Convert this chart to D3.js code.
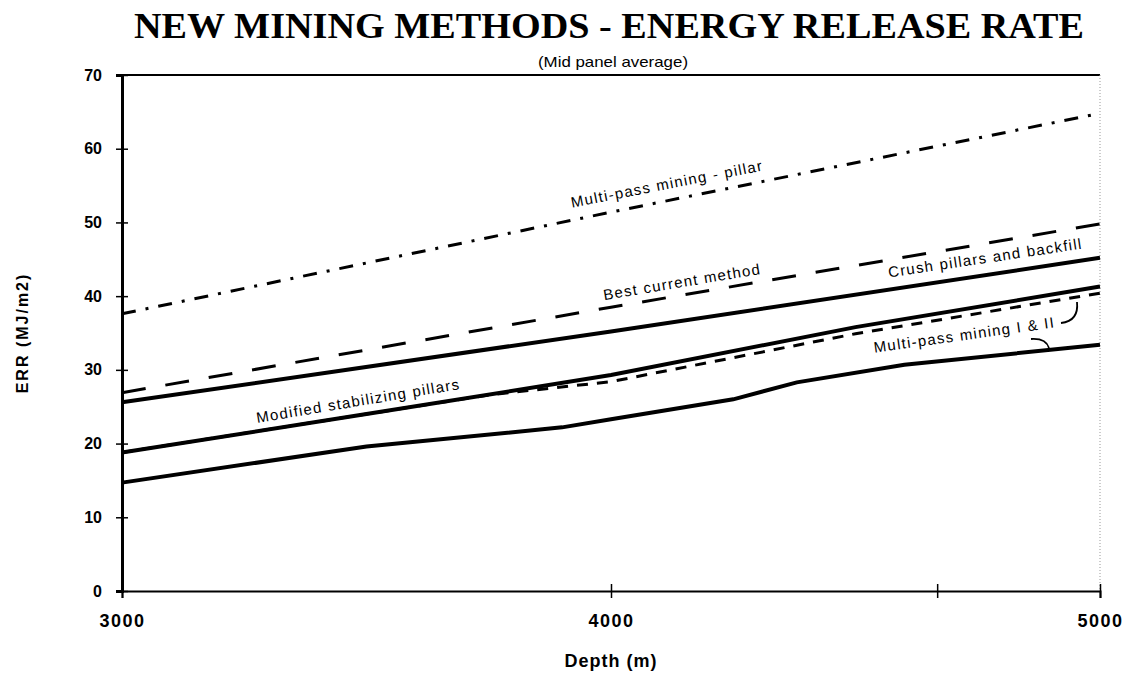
<!DOCTYPE html>
<html>
<head>
<meta charset="utf-8">
<script src="https://d3js.org/d3.v7.min.js"></script>
<style>
  body { margin: 0; background: #fff; }
  svg { display: block; }
</style>
</head>
<body>
<script>
// Chart data
var depthPillar = [3000, 4000, 5000];
var errPillar = [37.6, 51.4, 64.8];

var depthBest = [3000, 4000, 5000];
var errBest = [26.9, 38.5, 49.8];

var depthCrush = [3000, 4000, 5000];
var errCrush = [25.6, 35.2, 45.2];

var depthModified = [3000, 3500, 4000, 4500, 5000];
var errModified = [18.8, 24.0, 29.3, 35.8, 41.3];

var depthMultiA = [3000, 3500, 3750, 4000, 4500, 5000];
var errMultiA = [18.8, 24.0, 26.6, 28.4, 34.9, 40.4];

var depthMultiB = [3000, 3500, 3900, 4000, 4250, 4380, 4600, 5000];
var errMultiB = [14.7, 19.6, 22.2, 23.3, 26.0, 28.3, 30.7, 33.4];

var yTicks = [0, 10, 20, 30, 40, 50, 60, 70];
var xTickLabels = [3000, 4000, 5000];
var xTickMarks = [3000, 4000, 4667, 5000];

// Dimensions
var width = 1130,
    height = 673;
var plotLeft = 122, plotRight = 1100, plotTop = 75, plotBottom = 591;

var svg = d3.select("body")
    .append("svg")
    .attr("width", width)
    .attr("height", height);

var x = d3.scaleLinear().domain([3000, 5000]).range([plotLeft, plotRight]);
var y = d3.scaleLinear().domain([0, 70]).range([plotBottom, plotTop]);

// Title and subtitle
svg.append("text")
    .attr("x", 609)
    .attr("y", 38)
    .attr("text-anchor", "middle")
    .attr("font-family", "Liberation Serif, serif")
    .attr("font-weight", "bold")
    .attr("font-size", "36px")
    .attr("textLength", 950)
    .attr("lengthAdjust", "spacingAndGlyphs")
    .text("NEW MINING METHODS - ENERGY RELEASE RATE");

svg.append("text")
    .attr("x", 613)
    .attr("y", 67)
    .attr("text-anchor", "middle")
    .attr("font-family", "Liberation Sans, Arial, sans-serif")
    .attr("font-size", "15px")
    .attr("textLength", 150)
    .attr("lengthAdjust", "spacingAndGlyphs")
    .text("(Mid panel average)");

// Frame: top border and dotted right border
svg.append("line")
    .attr("x1", plotLeft).attr("x2", plotRight)
    .attr("y1", plotTop).attr("y2", plotTop)
    .attr("stroke", "#000").attr("stroke-width", 2);

svg.append("line")
    .attr("x1", plotRight).attr("x2", plotRight)
    .attr("y1", plotTop).attr("y2", plotBottom)
    .attr("stroke", "#999").attr("stroke-width", 1)
    .attr("stroke-dasharray", "1,2");

// Y axis
var yAxis = svg.append("g")
    .attr("transform", "translate(" + plotLeft + ",0)")
    .call(d3.axisLeft(y).tickValues(yTicks).tickSize(6).tickPadding(14));

yAxis.select(".domain").attr("stroke-width", 3);
yAxis.selectAll(".tick line").attr("x1", 6).attr("stroke-width", 1.5);
yAxis.selectAll(".tick text")
    .attr("font-family", "Liberation Sans, Arial, sans-serif")
    .attr("font-weight", "bold")
    .attr("font-size", "16px")
    .attr("fill", "#000");

// X axis
var xAxis = svg.append("g")
    .attr("transform", "translate(0," + plotBottom + ")")
    .call(d3.axisBottom(x).tickValues(xTickMarks).tickSize(7)
        .tickFormat(function(d) { return xTickLabels.indexOf(d) >= 0 ? d : ""; })
        .tickPadding(16));

xAxis.select(".domain").attr("stroke-width", 2);
xAxis.selectAll(".tick line").attr("y1", -7).attr("stroke-width", 1.5);
xAxis.selectAll(".tick text")
    .attr("font-family", "Liberation Sans, Arial, sans-serif")
    .attr("font-weight", "bold")
    .attr("font-size", "18px")
    .attr("letter-spacing", "1.5px")
    .attr("fill", "#000");

// Axis titles
svg.append("text")
    .attr("x", 611)
    .attr("y", 667)
    .attr("text-anchor", "middle")
    .attr("font-family", "Liberation Sans, Arial, sans-serif")
    .attr("font-weight", "bold")
    .attr("font-size", "18px")
    .attr("letter-spacing", "1px")
    .text("Depth (m)");

svg.append("text")
    .attr("transform", "translate(28,333) rotate(-90)")
    .attr("text-anchor", "middle")
    .attr("font-family", "Liberation Sans, Arial, sans-serif")
    .attr("font-weight", "bold")
    .attr("font-size", "16px")
    .attr("letter-spacing", "2px")
    .text("ERR (MJ/m2)");

// Lines
var line = d3.line()
    .x(function(d) { return x(d[0]); })
    .y(function(d) { return y(d[1]); });

var series = [
    { depth: depthMultiA, err: errMultiA, width: 3, dash: "11,9" },
    { depth: depthPillar, err: errPillar, width: 3, dash: "14,10,3,10" },
    { depth: depthBest, err: errBest, width: 3, dash: "24,20" },
    { depth: depthCrush, err: errCrush, width: 4, dash: null },
    { depth: depthModified, err: errModified, width: 4, dash: null },
    { depth: depthMultiB, err: errMultiB, width: 4, dash: null }
];

svg.selectAll("path.series")
    .data(series)
    .enter()
    .append("path")
    .attr("class", "series")
    .attr("d", function(s) { return line(d3.zip(s.depth, s.err)); })
    .attr("fill", "none")
    .attr("stroke", "#000")
    .attr("stroke-width", function(s) { return s.width; })
    .attr("stroke-dasharray", function(s) { return s.dash; });

// Line labels
var labels = [
    { text: "Multi-pass mining - pillar", x: 668, y: 189, angle: -11 },
    { text: "Best current method", x: 683, y: 287, angle: -9.5 },
    { text: "Crush pillars and backfill", x: 986, y: 263, angle: -8.5 },
    { text: "Modified stabilizing pillars", x: 359, y: 406, angle: -9.5 },
    { text: "Multi-pass mining I & II", x: 965, y: 340, angle: -8 }
];

svg.selectAll("text.label")
    .data(labels)
    .enter()
    .append("text")
    .attr("class", "label")
    .attr("transform", function(d) { return "translate(" + d.x + "," + d.y + ") rotate(" + d.angle + ")"; })
    .attr("text-anchor", "middle")
    .attr("font-family", "Liberation Sans, Arial, sans-serif")
    .attr("font-size", "15px")
    .attr("letter-spacing", "1.3px")
    .text(function(d) { return d.text; });

// Leader hooks for "Multi-pass mining I & II"
svg.append("path")
    .attr("d", "M1061,323 Q1079,321 1077,302")
    .attr("fill", "none").attr("stroke", "#000").attr("stroke-width", 1.8);

svg.append("path")
    .attr("d", "M1031,339 Q1046,338 1049,348")
    .attr("fill", "none").attr("stroke", "#000").attr("stroke-width", 1.8);
</script>
</body>
</html>
